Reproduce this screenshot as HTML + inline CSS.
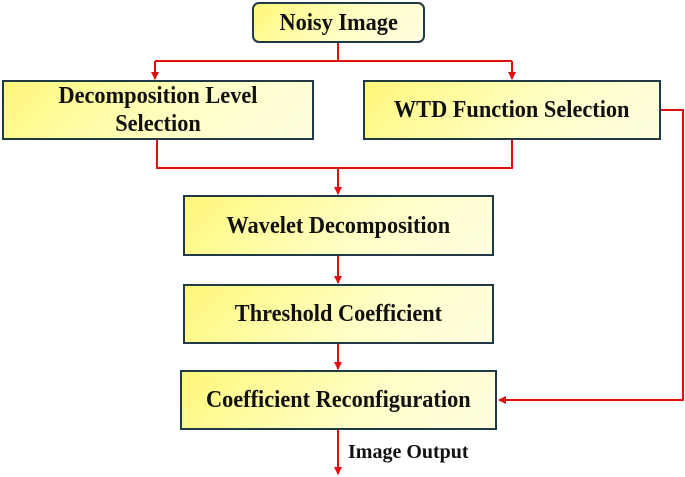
<!DOCTYPE html>
<html><head><style>
body{margin:0;width:685px;height:477px;background:#fff;overflow:hidden;position:relative;font-family:"Liberation Serif",serif;font-weight:bold;}
.b{position:absolute;box-sizing:border-box;border:2px solid #1f3a44;background:linear-gradient(135deg,#fff77a 0%,#ffffc8 60%,#fffde0 100%);display:flex;align-items:center;justify-content:center;text-align:center;font-size:24px;color:#111;line-height:28px;}
.b span,.o{display:inline-block;transform:scaleX(0.93);white-space:nowrap}
</style></head><body>
<svg width="685" height="477" style="position:absolute;left:0;top:0">
<defs><marker id="a" markerWidth="8" markerHeight="8" refX="7" refY="4" orient="auto" markerUnits="userSpaceOnUse"><path d="M0,0L8,4L0,8z" fill="#e01010"/></marker></defs>
<g stroke="#e01010" stroke-width="2" fill="none">
<path d="M338 42V61"/><path d="M155 61H512"/>
<path d="M155 61V79" marker-end="url(#a)"/><path d="M512 61V79" marker-end="url(#a)"/>
<path d="M157 139V168H512V139"/><path d="M338 168V194" marker-end="url(#a)"/>
<path d="M338 255V283" marker-end="url(#a)"/><path d="M338 343V369" marker-end="url(#a)"/>
<path d="M661 110H683V400H499" marker-end="url(#a)"/>
<path d="M338 430V474" marker-end="url(#a)"/>
</g></svg>
<div class="b" style="left:252px;top:2px;width:173px;height:41px;border-radius:7px"><span>Noisy Image</span></div>
<div class="b" style="left:2px;top:80px;width:312px;height:60px"><span>Decomposition Level<br>Selection</span></div>
<div class="b" style="left:363px;top:80px;width:298px;height:60px"><span>WTD Function Selection</span></div>
<div class="b" style="left:183px;top:195px;width:311px;height:61px"><span>Wavelet Decomposition</span></div>
<div class="b" style="left:183px;top:284px;width:311px;height:60px"><span>Threshold Coefficient</span></div>
<div class="b" style="left:180px;top:370px;width:317px;height:60px"><span>Coefficient Reconfiguration</span></div>
<div class="o" style="position:absolute;left:348px;top:441px;font-size:20px;color:#111;transform:scaleX(1);">Image Output</div>
</body></html>
